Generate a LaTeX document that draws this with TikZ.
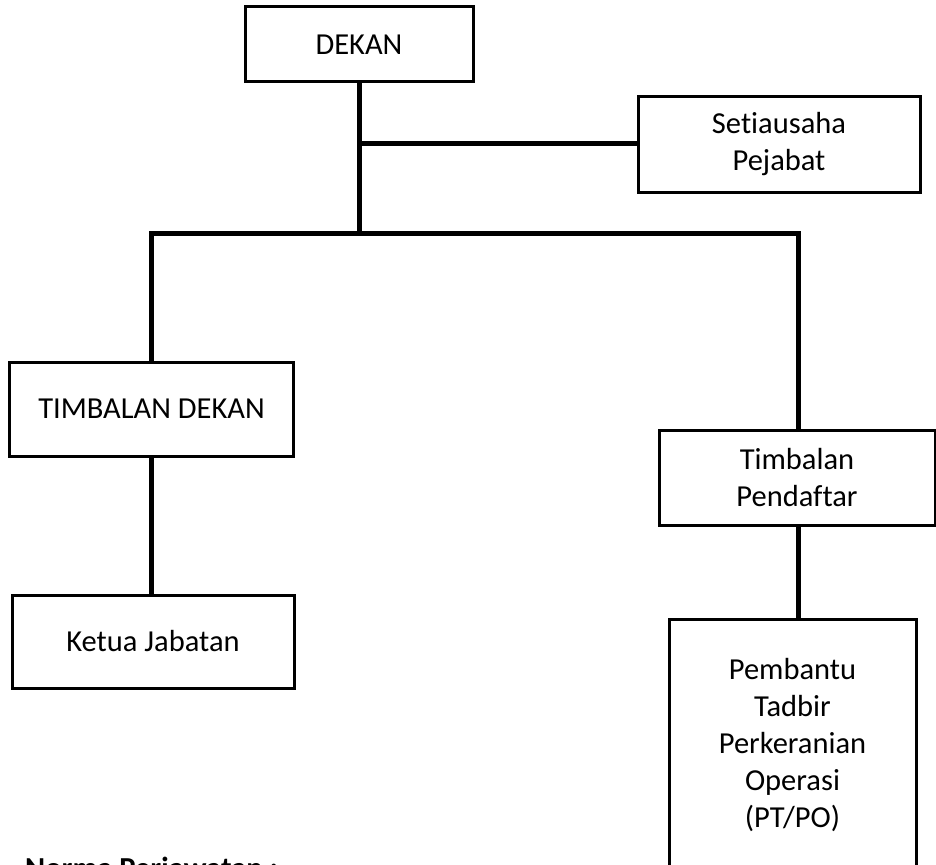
\documentclass[tikz,border=0pt]{standalone}
\usepackage{fontspec}
\setmainfont{Carlito}[Ligatures={NoCommon,NoRare,NoContextual}]
\begin{document}
\begin{tikzpicture}[x=1pt,y=-1pt,
  box/.style={draw=black, line width=3pt, align=center, inner sep=0pt, font=\fontsize{30.5}{37}\selectfont},
  link/.style={line width=5pt, line cap=rect},
  stem/.style={line width=5pt}]
\useasboundingbox (0,0) rectangle (936,864);
\clip (0,0) rectangle (936,864);
\node[box, minimum width=228, minimum height=75] (dekan) at (359,44.5) {DEKAN};
\node[box, minimum width=282, minimum height=95] (setia) at (779,144.5) {Setiausaha\\Pejabat};
\node[box, minimum width=284, minimum height=94] (td) at (151.5,409) {TIMBALAN DEKAN};
\node[box, minimum width=282, minimum height=93] (kj) at (153,641.5) {Ketua Jabatan};
\node[box, minimum width=276, minimum height=95] (tp) at (797,477.5) {Timbalan\\Pendaftar};
\node[box, minimum width=247, minimum height=252] (pb) at (792.5,745) {Pembantu\\Tadbir\\Perkeranian\\Operasi\\(PT/PO)};
\coordinate (busL) at (151,233);
\coordinate (busR) at (798,233);
\coordinate (j) at (359,143);
\draw[stem] (dekan.south) -- (dekan.south |- busL);
\draw[link] (j) -- (j -| setia.west);
\draw[link] (busL) -- (busR);
\draw[stem] (busL) -- (busL |- td.north);
\draw[stem] (busR) -- (busR |- tp.north);
\draw[stem] (td.south) -- (td.south |- kj.north);
\draw[stem] (busR |- tp.south) -- (busR |- pb.north);
\node[anchor=base west, font=\fontsize{30.5}{37}\selectfont\bfseries, inner sep=0pt] (norma) at (25,878) {Norma Perjawatan :};
\end{tikzpicture}
\end{document}
